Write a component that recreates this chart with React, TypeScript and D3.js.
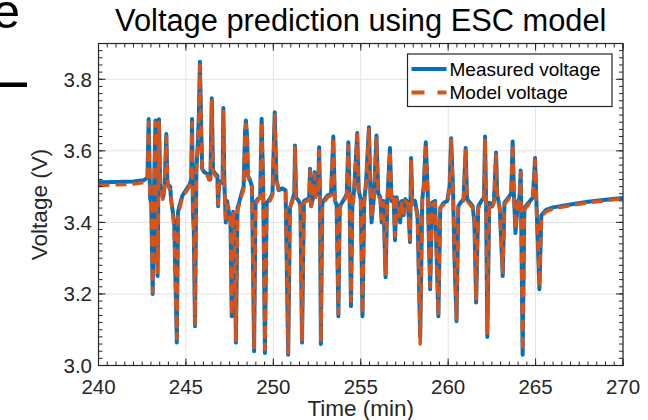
import React from "react";
import * as d3 from "d3";

const timeMin = [
  240.0, 241.0, 242.0, 242.6, 242.8, 242.87, 242.95, 243.02, 243.1, 243.18,
  243.26, 243.32, 243.38, 243.46, 243.53, 243.6, 243.7, 243.78, 243.88, 243.94,
  244.0, 244.1, 244.15, 244.25, 244.33, 244.42, 244.48, 244.55, 244.65, 244.8,
  245.0, 245.2, 245.3, 245.35, 245.4, 245.45, 245.52, 245.6, 245.68, 245.74,
  245.8, 245.87, 245.93, 246.05, 246.25, 246.32, 246.4, 246.48, 246.55, 246.7,
  246.8, 246.84, 246.9, 247.0, 247.1, 247.14, 247.2, 247.28, 247.35, 247.45,
  247.55, 247.62, 247.7, 247.78, 247.86, 247.95, 248.05, 248.15, 248.3, 248.38,
  248.43, 248.5, 248.55, 248.65, 248.78, 248.9, 248.98, 249.1, 249.25, 249.33,
  249.42, 249.52, 249.62, 249.8, 249.95, 250.08, 250.18, 250.3, 250.5, 250.7,
  250.85, 250.95, 251.1, 251.2, 251.24, 251.3, 251.45, 251.55, 251.64, 251.75,
  251.95, 252.05, 252.1, 252.16, 252.28, 252.36, 252.44, 252.56, 252.62, 252.67,
  252.72, 252.8, 253.1, 253.3, 253.43, 253.52, 253.62, 253.72, 253.8, 254.05,
  254.2, 254.29, 254.36, 254.44, 254.52, 254.62, 254.8, 254.88, 255.0, 255.1,
  255.2, 255.3, 255.47, 255.55, 255.62, 255.75, 255.9, 256.0, 256.12, 256.2,
  256.3, 256.42, 256.52, 256.67, 256.76, 256.88, 256.96, 257.05, 257.15, 257.25,
  257.35, 257.45, 257.55, 257.7, 257.82, 257.88, 257.95, 258.1, 258.25, 258.4,
  258.52, 258.6, 258.72, 258.82, 258.97, 259.08, 259.25, 259.44, 259.55, 259.75,
  259.95, 260.08, 260.17, 260.28, 260.36, 260.48, 260.58, 260.7, 260.88, 261.0,
  261.08, 261.25, 261.4, 261.5, 261.6, 261.72, 261.9, 262.05, 262.11, 262.17,
  262.24, 262.35, 262.5, 262.62, 262.74, 262.8, 262.95, 263.12, 263.22, 263.45,
  263.6, 263.69, 263.76, 263.85, 263.98, 264.08, 264.15, 264.26, 264.36, 264.6,
  264.85, 264.97, 265.06, 265.22, 265.33, 265.6, 266.0, 267.0, 268.0, 269.0, 270.0,
];

const measuredVoltage = [
  3.512, 3.513, 3.514, 3.518, 3.525, 3.689, 3.47, 3.45, 3.2, 3.5,
  3.685, 3.42, 3.25, 3.688, 3.5, 3.49, 3.47, 3.5, 3.647, 3.51,
  3.505, 3.5, 3.465, 3.43, 3.4, 3.2, 3.064, 3.43, 3.45, 3.475,
  3.49, 3.505, 3.52, 3.689, 3.43, 3.38, 3.11, 3.55, 3.62, 3.7,
  3.849, 3.68, 3.55, 3.54, 3.535, 3.52, 3.52, 3.747, 3.545, 3.535,
  3.53, 3.445, 3.515, 3.51, 3.52, 3.72, 3.51, 3.4, 3.46, 3.43,
  3.4, 3.138, 3.43, 3.38, 3.064, 3.44, 3.456, 3.475, 3.5, 3.65,
  3.685, 3.64, 3.53, 3.52, 3.5, 3.04, 3.455, 3.465, 3.47, 3.69,
  3.5, 3.035, 3.455, 3.465, 3.48, 3.708, 3.52, 3.49, 3.495, 3.49,
  3.03, 3.44, 3.465, 3.48, 3.615, 3.47, 3.46, 3.45, 3.064, 3.46,
  3.465, 3.47, 3.55, 3.445, 3.47, 3.54, 3.475, 3.48, 3.61, 3.47,
  3.06, 3.455, 3.475, 3.48, 3.64, 3.46, 3.45, 3.138, 3.445, 3.465,
  3.48, 3.624, 3.475, 3.166, 3.445, 3.49, 3.65, 3.49, 3.465, 3.138,
  3.46, 3.51, 3.666, 3.49, 3.4, 3.47, 3.643, 3.48, 3.47, 3.4,
  3.46, 3.247, 3.46, 3.608, 3.46, 3.47, 3.35, 3.47, 3.45, 3.4,
  3.46, 3.42, 3.465, 3.455, 3.345, 3.58, 3.455, 3.46, 3.42, 3.08,
  3.465, 3.5, 3.624, 3.5, 3.213, 3.455, 3.46, 3.138, 3.44, 3.455,
  3.46, 3.5, 3.635, 3.49, 3.3, 3.124, 3.445, 3.455, 3.465, 3.608,
  3.465, 3.455, 3.445, 3.4, 3.176, 3.445, 3.46, 3.47, 3.64, 3.45,
  3.08, 3.455, 3.445, 3.46, 3.595, 3.48, 3.44, 3.25, 3.455, 3.47,
  3.48, 3.626, 3.48, 3.37, 3.455, 3.47, 3.545, 3.03, 3.44, 3.455,
  3.47, 3.58, 3.44, 3.213, 3.42, 3.435, 3.442, 3.45, 3.458, 3.463, 3.468,
];

const modelVoltage = [
  3.503, 3.505, 3.507, 3.512, 3.52, 3.68, 3.46, 3.45, 3.205, 3.5,
  3.68, 3.43, 3.26, 3.68, 3.5, 3.48, 3.46, 3.51, 3.64, 3.52,
  3.5, 3.49, 3.47, 3.42, 3.38, 3.2, 3.075, 3.42, 3.44, 3.47,
  3.485, 3.5, 3.52, 3.68, 3.43, 3.38, 3.115, 3.55, 3.6, 3.68,
  3.84, 3.67, 3.55, 3.535, 3.53, 3.52, 3.52, 3.74, 3.54, 3.53,
  3.52, 3.45, 3.51, 3.5, 3.51, 3.71, 3.51, 3.41, 3.45, 3.43,
  3.4, 3.14, 3.43, 3.37, 3.07, 3.43, 3.45, 3.47, 3.49, 3.64,
  3.675, 3.63, 3.53, 3.515, 3.5, 3.05, 3.45, 3.46, 3.47, 3.68,
  3.5, 3.045, 3.45, 3.46, 3.475, 3.7, 3.52, 3.49, 3.49, 3.485,
  3.035, 3.44, 3.46, 3.475, 3.61, 3.47, 3.455, 3.445, 3.07, 3.455,
  3.46, 3.465, 3.545, 3.445, 3.465, 3.535, 3.47, 3.475, 3.6, 3.465,
  3.065, 3.45, 3.47, 3.475, 3.635, 3.455, 3.445, 3.145, 3.44, 3.46,
  3.475, 3.615, 3.47, 3.18, 3.44, 3.485, 3.645, 3.485, 3.46, 3.145,
  3.455, 3.505, 3.66, 3.485, 3.41, 3.465, 3.635, 3.475, 3.465, 3.41,
  3.455, 3.255, 3.455, 3.6, 3.455, 3.465, 3.36, 3.465, 3.445, 3.41,
  3.455, 3.425, 3.46, 3.45, 3.35, 3.57, 3.45, 3.455, 3.41, 3.06,
  3.46, 3.495, 3.62, 3.495, 3.22, 3.45, 3.455, 3.14, 3.44, 3.45,
  3.455, 3.495, 3.63, 3.485, 3.31, 3.13, 3.44, 3.45, 3.46, 3.6,
  3.46, 3.45, 3.44, 3.41, 3.18, 3.44, 3.455, 3.465, 3.635, 3.45,
  3.09, 3.45, 3.44, 3.455, 3.59, 3.475, 3.435, 3.26, 3.45, 3.465,
  3.475, 3.62, 3.475, 3.38, 3.45, 3.465, 3.54, 3.04, 3.435, 3.45,
  3.465, 3.575, 3.435, 3.22, 3.415, 3.43, 3.438, 3.447, 3.455, 3.461, 3.466,
];

const xTickValues = [240, 245, 250, 255, 260, 265, 270];
const yTickValues = [3.0, 3.2, 3.4, 3.6, 3.8];
const titleText = "Voltage prediction using ESC model";
const xLabelText = "Time (min)";
const yLabelText = "Voltage (V)";
const seriesNames = ["Measured voltage", "Model voltage"];

const W = 648;
const H = 420;
const L = 98.5, R = 623, T = 43.5, B = 365.5;
const AX = "#262626";
const BLUE = "#0072BD";
const ORANGE = "#D95319";
const FONT = "'Liberation Sans', Arial, Helvetica, sans-serif";

export default function App() {
  const x = d3.scaleLinear().domain([240, 270]).range([L, R]);
  const y = d3.scaleLinear().domain([3.0, 3.9]).range([B, T]);
  const n = Math.min(timeMin.length, measuredVoltage.length, modelVoltage.length);
  const idx = d3.range(n);
  const lineMeas = d3.line<number>().x((i) => x(timeMin[i])).y((i) => y(measuredVoltage[i]));
  const lineModel = d3.line<number>().x((i) => x(timeMin[i])).y((i) => y(modelVoltage[i]));

  const xMinor = d3.range(240, 270.001, 0.5);
  const yMinor = d3.range(3.0, 3.9001, 0.02);
  const yMajorTicks = d3.range(3.0, 3.9001, 0.2);

  return (
    <svg width={W} height={H} style={{ position: "absolute", left: 0, top: 0, background: "#fff" }}>
      <rect x={0} y={0} width={W} height={H} fill="#fff" />
      {/* cropped neighbour artefacts */}
      <text x={20} y={28} textAnchor="end" fontFamily={FONT} fontSize={49} fill="#000">e</text>
      <rect x={0} y={82.5} width={27} height={4.5} fill="#000" />

      <clipPath id="plotclip">
        <rect x={L} y={T} width={R - L} height={B - T} />
      </clipPath>

      {/* grid */}
      {xTickValues.map((v) => (
        <line key={"gx" + v} x1={x(v)} x2={x(v)} y1={T} y2={B} stroke="#e3e3e3" strokeWidth={1} />
      ))}
      {yTickValues.map((v) => (
        <line key={"gy" + v} x1={L} x2={R} y1={y(v)} y2={y(v)} stroke="#e3e3e3" strokeWidth={1} />
      ))}

      {/* data */}
      <g clipPath="url(#plotclip)">
        <path d={lineMeas(idx) || ""} fill="none" stroke={BLUE} strokeWidth={4} strokeLinejoin="round" />
        <path d={lineModel(idx) || ""} fill="none" stroke={ORANGE} strokeWidth={3.5} strokeDasharray="11,6" strokeLinejoin="round" />
      </g>

      {/* minor ticks */}
      {xMinor.map((v, i) => (
        <g key={"xm" + i}>
          <line x1={x(v)} x2={x(v)} y1={B} y2={B - 4} stroke={AX} strokeWidth={1} />
          <line x1={x(v)} x2={x(v)} y1={T} y2={T + 4} stroke={AX} strokeWidth={1} />
        </g>
      ))}
      {yMinor.map((v, i) => (
        <g key={"ym" + i}>
          <line x1={L} x2={L + 4} y1={y(v)} y2={y(v)} stroke={AX} strokeWidth={1} />
          <line x1={R} x2={R - 4} y1={y(v)} y2={y(v)} stroke={AX} strokeWidth={1} />
        </g>
      ))}
      {/* major ticks */}
      {xTickValues.map((v) => (
        <g key={"xM" + v}>
          <line x1={x(v)} x2={x(v)} y1={B} y2={B - 7} stroke={AX} strokeWidth={1} />
          <line x1={x(v)} x2={x(v)} y1={T} y2={T + 7} stroke={AX} strokeWidth={1} />
        </g>
      ))}
      {yMajorTicks.map((v, i) => (
        <g key={"yM" + i}>
          <line x1={L} x2={L + 7} y1={y(v)} y2={y(v)} stroke={AX} strokeWidth={1} />
          <line x1={R} x2={R - 7} y1={y(v)} y2={y(v)} stroke={AX} strokeWidth={1} />
        </g>
      ))}

      {/* box */}
      <rect x={L} y={T} width={R - L} height={B - T} fill="none" stroke={AX} strokeWidth={1.2} />

      {/* tick labels */}
      {xTickValues.map((v) => (
        <text key={"xl" + v} x={x(v)} y={394} textAnchor="middle" fontFamily={FONT} fontSize={20.5} fill={AX}>
          {d3.format("d")(v)}
        </text>
      ))}
      {yTickValues.map((v) => (
        <text key={"yl" + v} x={92} y={y(v) + 7.5} textAnchor="end" fontFamily={FONT} fontSize={20.5} fill={AX}>
          {d3.format(".1f")(v)}
        </text>
      ))}

      {/* labels */}
      <text x={(L + R) / 2} y={31} textAnchor="middle" fontFamily={FONT} fontSize={30.8} fill="#000">
        {titleText}
      </text>
      <text x={(L + R) / 2} y={416} textAnchor="middle" fontFamily={FONT} fontSize={22.5} fill={AX}>
        {xLabelText}
      </text>
      <text transform={`translate(47, ${(T + B) / 2}) rotate(-90)`} textAnchor="middle" fontFamily={FONT} fontSize={22.5} fill={AX}>
        {yLabelText}
      </text>

      {/* legend */}
      <rect x={407.5} y={54} width={204.5} height={52.5} fill="#fff" stroke={AX} strokeWidth={1.2} />
      <line x1={411.5} x2={446.5} y1={69} y2={69} stroke={BLUE} strokeWidth={4} />
      <line x1={411.5} x2={446.5} y1={92.5} y2={92.5} stroke={ORANGE} strokeWidth={4} strokeDasharray="13,13" />
      <text x={449.5} y={75.5} fontFamily={FONT} fontSize={19} fill="#000">{seriesNames[0]}</text>
      <text x={449.5} y={99} fontFamily={FONT} fontSize={19} fill="#000">{seriesNames[1]}</text>
    </svg>
  );
}
